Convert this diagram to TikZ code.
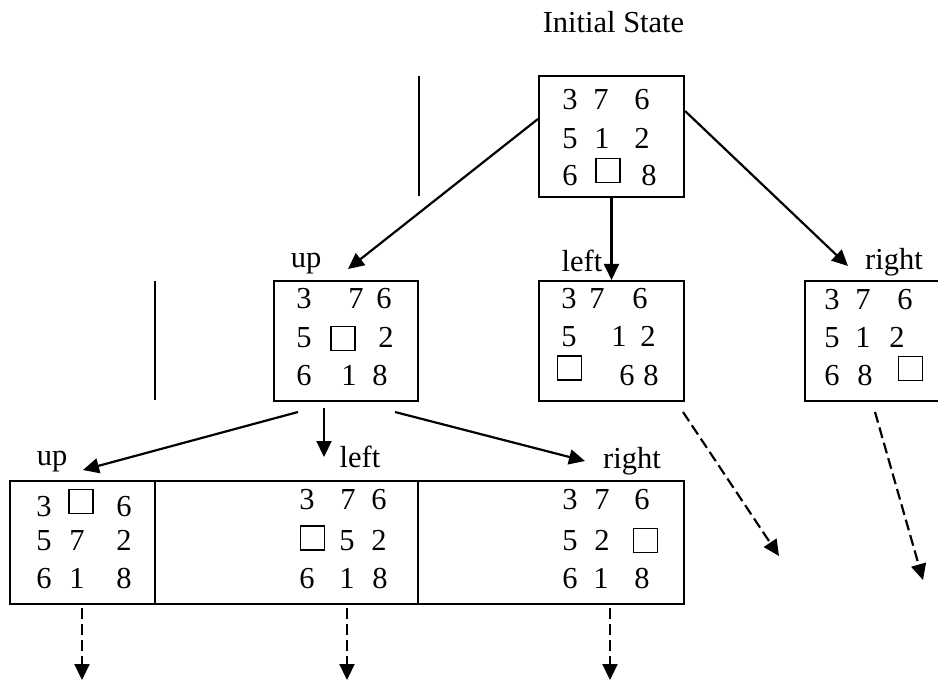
\documentclass[tikz,border=0pt]{standalone}
\usepackage{fontspec}
\setmainfont{Liberation Serif}
\usetikzlibrary{arrows.meta}
\newcommand\fsz{\fontsize{30.5}{36}\selectfont}
\newcommand\dg[4]{\node[dig] (#1) at (#2,#3) {#4};}
\newcommand\sqn[3]{\node[sqr] (#1) at (#2,#3) {};}
\tikzset{
  box/.style={draw, line width=2.1pt, inner sep=0pt},
  dig/.style={font=\fsz, inner sep=0pt, anchor=base},
  lab/.style={font=\fsz, inner sep=0pt, anchor=base},
  sqr/.style={draw, line width=1.4pt, minimum size=24pt, inner sep=0pt},
  sepline/.style={line width=2.1pt},
  arr/.style={line width=2.2pt, -{Triangle[length=16pt,width=15pt]}},
  darr/.style={arr, dash pattern=on 11pt off 5pt}
}
\begin{document}
\begin{tikzpicture}[x=1pt,y=-1pt]
\useasboundingbox (0,0) rectangle (938,681);

% title
\node[lab] (title) at (613.5,32) {Initial State};

% root
\node[box, minimum width=145pt, minimum height=121pt] (root) at (611.5,136.5) {};
\draw[sepline] (419,76) -- (419,196);
\dg{ra1}{570}{109}{3}\dg{ra2}{601}{109}{7}\dg{ra3}{642}{109}{6}
\dg{rb1}{570}{148}{5}\dg{rb2}{602}{148}{1}\dg{rb3}{642}{148}{2}
\dg{rc1}{570}{185}{6}\sqn{rc2}{608}{170.5}\dg{rc3}{649}{185}{8}

% level 1 labels
\node[lab] (l1up) at (306,267) {up};
\node[lab] (l1left) at (582,271) {left};
\node[lab] (l1right) at (894,269) {right};

% up box
\node[box, minimum width=144pt, minimum height=120pt] (ubox) at (346,341) {};
\draw[sepline] (155,281) -- (155,400);
\dg{ua1}{304}{308}{3}\dg{ua2}{356}{308}{7}\dg{ua3}{384}{308}{6}
\dg{ub1}{304}{347}{5}\sqn{ub2}{343}{338.5}\dg{ub3}{386}{347}{2}
\dg{uc1}{304}{385}{6}\dg{uc2}{349}{385}{1}\dg{uc3}{380}{385}{8}

% left box
\node[box, minimum width=145pt, minimum height=120pt] (lbox) at (611.5,341) {};
\dg{la1}{569}{308}{3}\dg{la2}{597}{308}{7}\dg{la3}{640}{308}{6}
\dg{lb1}{569}{346}{5}\dg{lb2}{619}{346}{1}\dg{lb3}{648}{346}{2}
\sqn{lc1}{569.5}{368}\dg{lc2}{627}{385}{6}\dg{lc3}{651}{385}{8}

% right box (cut by the page edge)
\node[inner sep=0pt, minimum width=133pt, minimum height=120pt] (rbox) at (871.5,341) {};
\draw[line width=2.1pt] (rbox.north east) -- (rbox.north west) -- (rbox.south west) -- (rbox.south east);
\dg{ta1}{832}{309}{3}\dg{ta2}{863}{309}{7}\dg{ta3}{905}{309}{6}
\dg{tb1}{832}{347}{5}\dg{tb2}{863}{347}{1}\dg{tb3}{897}{347}{2}
\dg{tc1}{832}{385}{6}\dg{tc2}{865}{385}{8}\sqn{tc3}{910.5}{368.5}

% level 1 arrows
\coordinate (t1up) at (348,269);
\coordinate (t1right) at (848,266);
\draw[arr] ([yshift=17.5pt]root.west) -- (t1up);
\draw[arr] (root.south) -- (lbox.north);
\draw[arr] ([yshift=25.5pt]root.east) -- (t1right);

% level 2 labels
\node[lab] (l2up) at (52,465) {up};
\node[lab] (l2left) at (360,467) {left};
\node[lab] (l2right) at (632,468) {right};

% level 2 cells
\node[box, minimum width=145pt, minimum height=123pt] (c1) at (82.5,542.5) {};
\node[box, minimum width=263pt, minimum height=123pt] (c2) at (286.5,542.5) {};
\node[box, minimum width=266pt, minimum height=123pt] (c3) at (551,542.5) {};

\dg{aa1}{44}{516}{3}\sqn{aa2}{81}{501.5}\dg{aa3}{124}{516}{6}
\dg{ab1}{44}{550}{5}\dg{ab2}{77}{550}{7}\dg{ab3}{124}{550}{2}
\dg{ac1}{44}{588}{6}\dg{ac2}{77}{588}{1}\dg{ac3}{124}{588}{8}

\dg{ba1}{307}{509}{3}\dg{ba2}{348}{509}{7}\dg{ba3}{379}{509}{6}
\sqn{bb1}{312.5}{538}\dg{bb2}{347}{550}{5}\dg{bb3}{379}{550}{2}
\dg{bc1}{307}{588}{6}\dg{bc2}{347}{588}{1}\dg{bc3}{380}{588}{8}

\dg{ca1}{570}{509}{3}\dg{ca2}{602}{509}{7}\dg{ca3}{642}{509}{6}
\dg{cb1}{570}{550}{5}\dg{cb2}{602}{550}{2}\sqn{cb3}{645.5}{540.5}
\dg{cc1}{570}{588}{6}\dg{cc2}{601}{588}{1}\dg{cc3}{642}{588}{8}

% level 2 arrows
\coordinate (s2a) at (298,412);
\coordinate (s2b) at (324,408);
\coordinate (s2c) at (395,412);
\coordinate (t2a) at (83,470);
\coordinate (t2b) at (324,457);
\coordinate (t2c) at (585,461);
\draw[arr] (s2a) -- (t2a);
\draw[arr] (s2b) -- (t2b);
\draw[arr] (s2c) -- (t2c);

% dashed arrows
\coordinate (d1s) at (82,608);  \coordinate (d1e) at (82,680);
\coordinate (d2s) at (347,608); \coordinate (d2e) at (347,680);
\coordinate (d3s) at (610,608); \coordinate (d3e) at (610,680);
\coordinate (d4s) at (683,412); \coordinate (d4e) at (779,556);
\coordinate (d5s) at (875,412); \coordinate (d5e) at (923,580);
\draw[darr] (d1s) -- (d1e);
\draw[darr] (d2s) -- (d2e);
\draw[darr] (d3s) -- (d3e);
\draw[darr] (d4s) -- (d4e);
\draw[darr] (d5s) -- (d5e);
\end{tikzpicture}
\end{document}
